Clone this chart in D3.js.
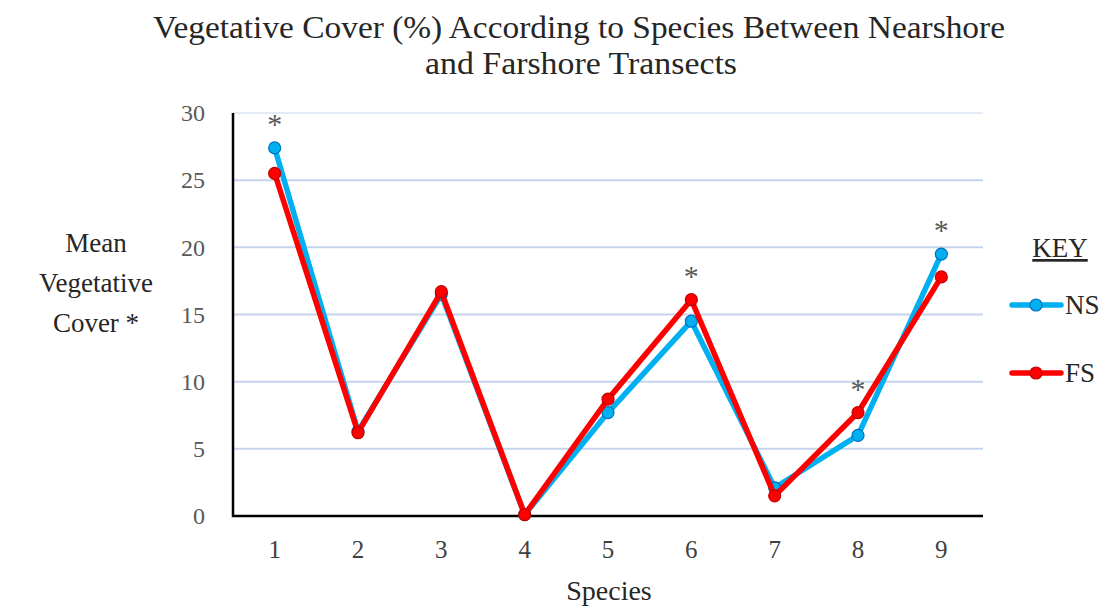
<!DOCTYPE html>
<html lang="en">
  <head>
    <meta charset="utf-8">
    <title>Vegetative Cover by Species</title>
    <script src="https://d3js.org/d3.v7.js"></script>
    <style>
      html, body { margin: 0; padding: 0; background: white; overflow: hidden; }
      svg { display: block; }
      text { font-family: "Liberation Serif", "DejaVu Serif", serif; }
    </style>
  </head>

  <body>
    <script>

      // data
      const species = ["1", "2", "3", "4", "5", "6", "7", "8", "9"];
      const nsValues = [27.4, 6.3, 16.5, 0.1, 7.7, 14.5, 2.1, 6.0, 19.5];
      const fsValues = [25.5, 6.2, 16.7, 0.1, 8.7, 16.1, 1.5, 7.7, 17.8];
      const significant = ["1", "6", "8", "9"];
      const yTicks = [0, 5, 10, 15, 20, 25, 30];

      const w = 1105;
      const h = 610;
      const margin = {top: 113, right: 122, bottom: 94, left: 233};
      const innerWidth = w - margin.left - margin.right;
      const innerHeight = h - margin.top - margin.bottom;

      const xScale = d3.scaleBand()
                       .domain(species)
                       .range([0, innerWidth]);

      const yScale = d3.scaleLinear()
                       .domain([0, 30])
                       .range([innerHeight, 0]);

      const xPos = d => xScale(d) + xScale.bandwidth() / 2;

      const svg = d3.select("body")
                    .append("svg")
                    .attr("width", w)
                    .attr("height", h);

      svg.append("rect")
         .attr("width", w)
         .attr("height", h)
         .attr("fill", "white");

      // title

      const title = svg.append("text")
                       .attr("text-anchor", "middle")
                       .attr("font-size", 31)
                       .attr("fill", "#262626");
      title.append("tspan").attr("x", 579).attr("y", 38)
           .attr("textLength", 852).attr("lengthAdjust", "spacingAndGlyphs")
           .text("Vegetative Cover (%) According to Species Between Nearshore");
      title.append("tspan").attr("x", 581).attr("y", 74)
           .attr("textLength", 312).attr("lengthAdjust", "spacingAndGlyphs")
           .text("and Farshore Transects");

      const plot = svg.append("g")
                      .attr("transform", `translate(${margin.left}, ${margin.top})`);

      // gridlines

      plot.append("g")
          .selectAll("line")
          .data(yTicks.filter(t => t > 0))
          .enter().append("line")
          .attr("x1", 0)
          .attr("x2", innerWidth)
          .attr("y1", d => yScale(d))
          .attr("y2", d => yScale(d))
          .attr("stroke", d => d === 30 ? "#E3EAF5" : "#C5D3EC")
          .attr("stroke-width", 2);

      // axes

      const yAxis = d3.axisLeft(yScale)
                      .tickValues(yTicks)
                      .tickSize(0)
                      .tickPadding(28);

      const yG = plot.append("g")
                     .call(yAxis)
                     .attr("font-family", "Lato, 'Open Sans', sans-serif")
                     .attr("font-size", 24);
      yG.select(".domain").remove();
      yG.selectAll("text").attr("fill", "#595959");

      const xAxis = d3.axisBottom(xScale)
                      .tickSize(0)
                      .tickPadding(24);

      const xG = plot.append("g")
                     .attr("transform", `translate(0, ${innerHeight})`)
                     .call(xAxis)
                     .attr("font-family", "'Liberation Serif', serif")
                     .attr("font-size", 25);
      xG.select(".domain").remove();
      xG.selectAll("text").attr("fill", "#404040");

      plot.append("path")
          .attr("d", `M0,0 V${innerHeight} H${innerWidth}`)
          .attr("fill", "none")
          .attr("stroke", "black")
          .attr("stroke-width", 2.5);

      // series

      const series = [
        {name: "NS", values: nsValues, line: "#00B0F0", fill: "#00B0F0", stroke: "#0070C0"},
        {name: "FS", values: fsValues, line: "#FF0000", fill: "#FF0000", stroke: "#C00000"}
      ];

      const line = d3.line()
                     .x((d, i) => xPos(species[i]))
                     .y(d => yScale(d));

      series.forEach(s => {
        plot.append("path")
            .datum(s.values)
            .attr("d", line)
            .attr("fill", "none")
            .attr("stroke", s.line)
            .attr("stroke-width", 5.5)
            .attr("stroke-linejoin", "round");

        plot.append("g")
            .selectAll("circle")
            .data(s.values)
            .enter().append("circle")
            .attr("cx", (d, i) => xPos(species[i]))
            .attr("cy", d => yScale(d))
            .attr("r", 6)
            .attr("fill", s.fill)
            .attr("stroke", s.stroke)
            .attr("stroke-width", 1.2);
      });

      // significance asterisks

      plot.append("g")
          .selectAll("text")
          .data(significant)
          .enter().append("text")
          .attr("x", d => xPos(d))
          .attr("y", d => {
            const i = species.indexOf(d);
            return yScale(Math.max(nsValues[i], fsValues[i])) - 14;
          })
          .attr("text-anchor", "middle")
          .attr("font-family", "'Liberation Sans', sans-serif")
          .attr("font-size", 30)
          .attr("fill", "#595959")
          .text("*");

      // axis titles

      svg.append("text")
         .attr("x", 609)
         .attr("y", 600)
         .attr("text-anchor", "middle")
         .attr("font-size", 28)
         .attr("fill", "#262626")
         .text("Species");

      const yTitle = svg.append("text")
                        .attr("text-anchor", "middle")
                        .attr("font-size", 27)
                        .attr("fill", "#262626");
      ["Mean", "Vegetative", "Cover *"].forEach((t, i) => {
        yTitle.append("tspan")
              .attr("x", 96)
              .attr("y", 252 + i * 40)
              .text(t);
      });

      // legend

      const legend = svg.append("g");

      legend.append("text")
            .attr("x", 1060)
            .attr("y", 257)
            .attr("text-anchor", "middle")
            .attr("font-size", 27)
            .attr("fill", "#262626")
            .attr("text-decoration", "underline")
            .text("KEY");

      series.forEach((s, i) => {
        const ly = 305 + i * 68;
        legend.append("line")
              .attr("x1", 1012)
              .attr("x2", 1061)
              .attr("y1", ly)
              .attr("y2", ly)
              .attr("stroke", s.line)
              .attr("stroke-width", 5.5)
              .attr("stroke-linecap", "round");
        legend.append("circle")
              .attr("cx", 1036)
              .attr("cy", ly)
              .attr("r", 6)
              .attr("fill", s.fill)
              .attr("stroke", s.stroke)
              .attr("stroke-width", 1.2);
        legend.append("text")
              .attr("x", 1065)
              .attr("y", ly + 9)
              .attr("font-size", 27)
              .attr("fill", "#262626")
              .text(s.name);
      });

    </script>
  </body>
</html>
